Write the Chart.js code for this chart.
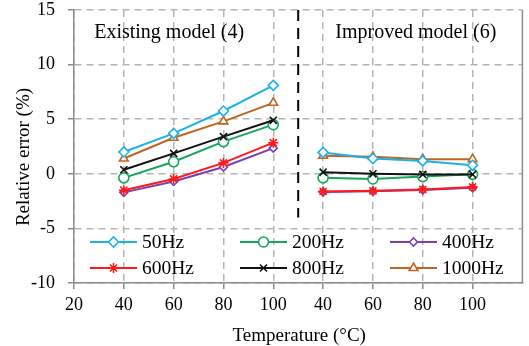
<!DOCTYPE html>
<html>
<head>
<meta charset="utf-8">
<script src="https://cdn.jsdelivr.net/npm/chart.js@4.4.1/dist/chart.umd.min.js"></script>
<style>
  html, body { margin: 0; padding: 0; background: #fff; }
  #wrap { width: 529px; height: 346px; }
</style>
</head>
<body>
<div id="wrap"><canvas id="errChart" width="529" height="346"></canvas></div>
<script>
// tick labels along the x axis (two panels share one axis)
const xTickLabels = ['20', '40', '60', '80', '100', '40', '60', '80', '100'];
const temperatures = [40, 60, 80, 100];
const frequencies = ['50Hz', '200Hz', '400Hz', '600Hz', '800Hz', '1000Hz'];

// relative error (%) - existing model (4)
const existing50 = [2.0, 3.7, 5.75, 8.1];
const existing200 = [-0.37, 1.1, 2.95, 4.5];
const existing400 = [-1.7, -0.7, 0.62, 2.35];
const existing600 = [-1.5, -0.47, 1.0, 2.85];
const existing800 = [0.37, 1.87, 3.4, 4.9];
const existing1000 = [1.4, 3.3, 4.8, 6.5];

// relative error (%) - improved model (6)
const improved50 = [1.96, 1.4, 1.18, 0.78];
const improved200 = [-0.37, -0.47, -0.25, -0.05];
const improved400 = [-1.66, -1.6, -1.48, -1.28];
const improved600 = [-1.62, -1.56, -1.43, -1.2];
const improved800 = [0.15, 0.0, -0.06, -0.06];
const improved1000 = [1.65, 1.55, 1.34, 1.34];

const yTicks = [-10, -5, 0, 5, 10, 15];

const styles = [
  { color: '#1db1ea', point: 'rectRot', radius: 5 },
  { color: '#16a85a', point: 'circle', radius: 5 },
  { color: '#7e3fae', point: 'rectRot', radius: 4 },
  { color: '#ff1a1a', point: 'star', radius: 5 },
  { color: '#111111', point: 'crossRot', radius: 5 },
  { color: '#c0651f', point: 'triangle', radius: 5 }
];

const existingSets = [existing50, existing200, existing400, existing600, existing800, existing1000];
const improvedSets = [improved50, improved200, improved400, improved600, improved800, improved1000];

// x position on the shared axis: 20 -> 0, 100 -> 4, then the second panel continues at 5..8
const toX = (t, panel) => (t - 20) / 20 + (panel === 1 ? 4 : 0);

function buildPoints(ex, im) {
  const pts = temperatures.map((t, i) => ({ x: toX(t, 0), y: ex[i] }));
  pts.push({ x: 4.5, y: null });
  temperatures.forEach((t, i) => pts.push({ x: toX(t, 1), y: im[i] }));
  return pts;
}

// draw order: purple under red, etc.
const order = [2, 3, 1, 4, 5, 0];
const datasets = frequencies.map((f, i) => ({
  label: f,
  data: buildPoints(existingSets[i], improvedSets[i]),
  borderColor: styles[i].color,
  backgroundColor: '#ffffff',
  pointBorderColor: styles[i].color,
  pointBackgroundColor: '#ffffff',
  pointStyle: styles[i].point,
  pointRadius: styles[i].radius,
  pointBorderWidth: 1.6,
  borderWidth: 2,
  spanGaps: false,
  order: 6 - order.indexOf(i)
}));

const serif = '"Liberation Serif", "DejaVu Serif", serif';

const extrasPlugin = {
  id: 'extras',
  beforeDatasetsDraw(chart) {
    const { ctx, chartArea, scales } = chart;
    ctx.save();
    // right frame
    ctx.strokeStyle = '#8c8c8c';
    ctx.lineWidth = 1.5;
    ctx.beginPath();
    ctx.moveTo(chartArea.right, chartArea.top);
    ctx.lineTo(chartArea.right, chartArea.bottom);
    ctx.stroke();
    // dashed separator between the two models
    const xs = scales.x.getPixelForValue(4.5);
    ctx.strokeStyle = '#000';
    ctx.lineWidth = 2;
    ctx.setLineDash([11, 7]);
    ctx.beginPath();
    ctx.moveTo(xs, chartArea.top);
    ctx.lineTo(xs, scales.y.getPixelForValue(-4));
    ctx.stroke();
    ctx.setLineDash([]);
    // panel captions
    ctx.fillStyle = '#000';
    ctx.font = '20px ' + serif;
    ctx.textBaseline = 'middle';
    ctx.textAlign = 'center';
    ctx.fillText('Existing model (4)', scales.x.getPixelForValue(1.91), chartArea.top + 23);
    ctx.fillText('Improved model (6)', scales.x.getPixelForValue(6.86), chartArea.top + 23);
    // axis titles
    ctx.font = '19px ' + serif;
    ctx.fillText('Temperature (°C)', (chartArea.left + chartArea.right) / 2 + 1, 336);
    ctx.translate(24, 157);
    ctx.rotate(-Math.PI / 2);
    ctx.fillText('Relative error (%)', 0, 0);
    ctx.restore();
  },
  afterDatasetsDraw(chart) {
    // legend inside the plot, 3 columns x 2 rows
    const { ctx, chartArea } = chart;
    ctx.save();
    ctx.font = '19.5px ' + serif;
    ctx.textBaseline = 'middle';
    ctx.textAlign = 'left';
    chart.data.datasets.forEach((ds, i) => {
      const col = i % 3;
      const row = Math.floor(i / 3);
      const x0 = chartArea.left + 16 + col * 150;
      const y0 = chartArea.bottom - 41 + row * 26;
      ctx.strokeStyle = ds.borderColor;
      ctx.lineWidth = 2;
      ctx.beginPath();
      ctx.moveTo(x0, y0);
      ctx.lineTo(x0 + 47, y0);
      ctx.stroke();
      ctx.fillStyle = '#fff';
      ctx.lineWidth = 1.6;
      Chart.helpers.drawPoint(ctx, {
        pointStyle: ds.pointStyle,
        radius: ds.pointRadius,
        borderWidth: 1.6,
        rotation: 0
      }, x0 + 23.5, y0);
      ctx.fillStyle = '#000';
      ctx.fillText(ds.label, x0 + 52, y0 + 1);
    });
    ctx.restore();
  }
};

new Chart(document.getElementById('errChart').getContext('2d'), {
  type: 'line',
  data: { datasets },
  plugins: [extrasPlugin],
  options: {
    responsive: false,
    animation: false,
    layout: { padding: { top: 10, right: 2, left: 0, bottom: 0 } },
    plugins: {
      legend: { display: false },
      tooltip: { enabled: false }
    },
    scales: {
      x: {
        type: 'linear',
        min: 0,
        max: 9,
        afterFit: s => { s.height = 63; s.paddingLeft = 0; s.paddingRight = 0; },
        afterBuildTicks: s => { s.ticks = xTickLabels.map((_, i) => ({ value: i })); },
        ticks: {
          autoSkip: false,
          maxRotation: 0,
          color: '#000',
          font: { family: serif, size: 18 },
          padding: 5,
          callback: v => xTickLabels[v] || ''
        },
        grid: {
          color: '#b5b5b5',
          lineWidth: 1.5,
          tickLength: 6,
          tickColor: '#8c8c8c',
          tickBorderDash: [0, 0],
          drawOnChartArea: true
        },
        border: { display: true, color: '#8c8c8c', width: 1.5, dash: [7, 5] }
      },
      y: {
        min: -10,
        max: 15,
        afterFit: s => { s.width = 74; s.paddingTop = 0; s.paddingBottom = 0; },
        afterBuildTicks: s => { s.ticks = yTicks.map(v => ({ value: v })); },
        ticks: {
          color: '#000',
          font: { family: serif, size: 18 },
          padding: 13,
          callback: v => String(v)
        },
        grid: {
          color: '#b5b5b5',
          lineWidth: 1.5,
          tickLength: 6,
          tickColor: '#8c8c8c',
          tickBorderDash: [0, 0]
        },
        border: { display: true, color: '#8c8c8c', width: 1.5, dash: [7, 5] }
      }
    }
  }
});
</script>
</body>
</html>
